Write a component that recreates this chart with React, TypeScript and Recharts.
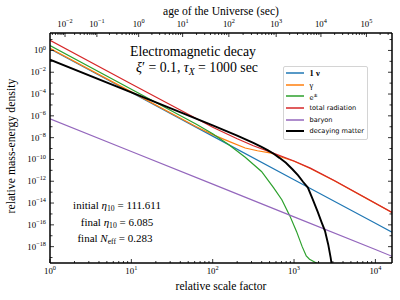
import React from "react";
import { LineChart, Line, XAxis, YAxis, Legend } from "recharts";

// scale factor samples and relative energy density
const nuA = [1, 10, 100, 1000, 10000, 16000];
const nuRho = [1.38, 1.38e-4, 1.38e-8, 1.38e-12, 1.38e-16, 2.1e-17];

const gammaA = [1, 10, 63, 100, 158, 251, 355, 525, 708, 1000, 1585, 3162, 7943, 16000];
const gammaRho = [1.58, 1.58e-4, 1e-7, 1.9e-8, 4.5e-9, 1.12e-9, 6.3e-10, 3.8e-10, 1.6e-10, 6.8e-11, 1.5e-11, 1.05e-12, 2.4e-14, 1.35e-15];

const epmA = [1, 10, 63, 100, 158, 251, 398, 562, 708, 891, 1072, 1259, 1413, 1549, 1995];
const epmRho = [2.75, 2.75e-4, 1.66e-7, 2.24e-8, 2.24e-9, 1.58e-10, 7.9e-12, 2.5e-13, 2e-14, 6.3e-16, 2.5e-17, 1e-18, 1.4e-19, 7e-20, 2.5e-20];

const radA = [1, 10, 100, 200, 316, 525, 1000, 1585, 3162, 7943, 16000];
const radRho = [8.5, 8.5e-4, 8.9e-8, 7.9e-9, 1.8e-9, 4.5e-10, 7.1e-11, 1.6e-11, 1.1e-12, 2.5e-14, 1.4e-15];

const baryonA = [1, 10, 100, 1000, 10000, 16000];
const baryonRho = [5.4e-7, 5.4e-10, 5.4e-13, 5.4e-16, 5.4e-19, 1.3e-19];

const dmA = [1, 10, 100, 200, 316, 398, 479, 562, 661, 794, 955, 1122, 1288, 1479, 1698, 1950, 2188, 2399, 2630, 2818, 3020];
const dmRho = [0.141, 1.41e-4, 1.35e-7, 1.5e-8, 3.3e-9, 1.4e-9, 6.8e-10, 3.3e-10, 1.4e-10, 5e-11, 1.26e-11, 3.5e-12, 9e-13, 2.6e-13, 2.2e-14, 1.6e-15, 1.6e-16, 2.8e-17, 1.6e-18, 1e-19, 3e-21];

// top axis: age of the Universe 10^n sec sits at these scale factors
const ageExp = [-2, -1, 0, 1, 2, 3, 4, 5];
const ageScale = [1.53, 3.77, 12.3, 42.7, 158, 603, 2140, 7760];

const xMajor = [1, 10, 100, 1000, 10000];
const yExp = [-19, -18, -17, -16, -15, -14, -13, -12, -11, -10, -9, -8, -7, -6, -5, -4, -3, -2, -1, 0, 1];

const X_DOMAIN = [1, 16000];
const Y_DOMAIN = [3.16e-20, 39.8];

const SERIF = '"Liberation Serif", "DejaVu Serif", serif';
const SANS = '"DejaVu Sans", sans-serif';

const series = [
  { key: "nu", label: "1 ν", serif: true, color: "#1f77b4", w: 1.2, a: nuA, rho: nuRho },
  { key: "gamma", label: "γ", serif: true, color: "#ff7f0e", w: 1.2, a: gammaA, rho: gammaRho },
  { key: "epm", label: "e±", serif: false, color: "#2ca02c", w: 1.2, a: epmA, rho: epmRho },
  { key: "rad", label: "total radiation", serif: false, color: "#d62728", w: 1.2, a: radA, rho: radRho },
  { key: "baryon", label: "baryon", serif: false, color: "#9467bd", w: 1.2, a: baryonA, rho: baryonRho },
  { key: "dm", label: "decaying matter", serif: false, color: "#000000", w: 1.9, a: dmA, rho: dmRho },
];

const rows = (a: number[], r: number[]) => a.map((x, i) => ({ a: x, rho: r[i] }));

const xTicks: number[] = [];
xMajor.forEach((d) => {
  for (let m = 1; m <= 9; m++) if (m * d <= X_DOMAIN[1]) xTicks.push(m * d);
});

// minor ticks of the age axis, placed between the major ones
const topTicks: number[] = [...ageScale];
const la = ageScale.map((v) => Math.log10(v));
for (let i = -1; i < la.length; i++) {
  const lo = i < 0 ? la[0] - (la[1] - la[0]) : la[i];
  const hi = i < 0 ? la[0] : i + 1 < la.length ? la[i + 1] : la[i] + (la[i] - la[i - 1]);
  for (let m = 2; m <= 9; m++) {
    const v = Math.pow(10, lo + Math.log10(m) * (hi - lo));
    if (v > X_DOMAIN[0] && v < X_DOMAIN[1]) topTicks.push(v);
  }
}
topTicks.sort((p, q) => p - q);

const yTicks = yExp.map((e) => Math.pow(10, e));

const expText = (e: number) => (e < 0 ? "\u2212" + -e : String(e));

function Pow({ x, y, e, anchor }: any) {
  return (
    <text x={x} y={y} textAnchor={anchor} fontFamily={SERIF} fontSize={8.8} fill="#000">
      <tspan>10</tspan>
      <tspan dy={-3.8} fontSize={6.3}>{expText(e)}</tspan>
    </text>
  );
}

function BottomTick(props: any) {
  const { x, y, payload } = props;
  const l = Math.log10(payload.value);
  const major = Math.abs(l - Math.round(l)) < 1e-9;
  return (
    <g>
      <line x1={x} x2={x} y1={y} y2={y - (major ? 4 : 2)} stroke="#000" strokeWidth={0.8} />
      {major && <Pow x={x} y={y + 11} e={Math.round(l)} anchor="middle" />}
    </g>
  );
}

function TopTick(props: any) {
  const { x, y, payload } = props;
  const idx = ageScale.indexOf(payload.value);
  const major = idx >= 0;
  return (
    <g>
      <line x1={x} x2={x} y1={y} y2={y + (major ? 4 : 2)} stroke="#000" strokeWidth={0.8} />
      {major && <Pow x={x} y={y - 6} e={ageExp[idx]} anchor="middle" />}
    </g>
  );
}

function LeftTick(props: any) {
  const { x, y, payload } = props;
  const e = Math.round(Math.log10(payload.value));
  const labelled = e % 2 === 0 && e <= 0 && e >= -18;
  return (
    <g>
      <line x1={x} x2={x + (labelled ? 4 : 2.5)} y1={y} y2={y} stroke="#000" strokeWidth={0.8} />
      {labelled && <Pow x={x - 4} y={y + 3} e={e} anchor="end" />}
    </g>
  );
}

function RightTick(props: any) {
  const { x, y, payload } = props;
  const e = Math.round(Math.log10(payload.value));
  const long = e % 2 === 0;
  return <line x1={x} x2={x - (long ? 4 : 2.5)} y1={y} y2={y} stroke="#000" strokeWidth={0.8} />;
}

const frame = { stroke: "#000", strokeWidth: 1.5 };

const renderLegend = () => (
  <div
    style={{
      width: 85,
      boxSizing: "border-box",
      border: "1px solid #d4d4d4",
      borderRadius: 2,
      background: "rgba(255,255,255,0.85)",
      padding: "0.5px 0 2px 1.5px",
    }}
  >
    {series.map((s) => (
      <div key={s.key} style={{ display: "flex", alignItems: "center", height: 11.6 }}>
        <svg width={18} height={4} style={{ marginRight: 6, display: "block" }}>
          <line x1={0} x2={18} y1={2} y2={2} stroke={s.color} strokeWidth={s.key === "dm" ? 2 : 1.5} />
        </svg>
        <span
          style={{
            fontFamily: s.serif ? SERIF : SANS,
            fontSize: s.serif ? 8.5 : 6.6,
            fontWeight: s.key === "nu" ? "bold" : "normal",
            color: "#000",
            whiteSpace: "nowrap",
            lineHeight: "10px",
          }}
        >
          {s.key === "epm" ? (
            <>
              e<sup style={{ fontSize: 5, verticalAlign: 3 }}>±</sup>
            </>
          ) : (
            s.label
          )}
        </span>
      </div>
    ))}
  </div>
);

const at = (cx: number, cy: number, size: number): React.CSSProperties => ({
  position: "absolute",
  left: cx,
  top: cy,
  transform: "translate(-50%, -50%)",
  fontFamily: SERIF,
  fontSize: size,
  whiteSpace: "nowrap",
  color: "#000",
  lineHeight: 1,
});

const Sub = ({ children }: any) => (
  <span style={{ fontSize: "0.7em", position: "relative", top: "0.3em" }}>{children}</span>
);

export default function App() {
  return (
    <div style={{ position: "absolute", left: 0, top: 0, width: 400, height: 300, background: "#fff" }}>
      <LineChart width={400} height={300} margin={{ top: 0, right: 7, bottom: 0, left: 8 }}>
        <XAxis
          xAxisId="bottom"
          dataKey="a"
          type="number"
          scale="log"
          domain={X_DOMAIN}
          allowDataOverflow
          ticks={xTicks}
          interval={0}
          height={37}
          tickSize={0}
          tickMargin={0}
          tickLine={false}
          axisLine={frame}
          tick={BottomTick}
        />
        <XAxis
          xAxisId="top"
          dataKey="a"
          orientation="top"
          type="number"
          scale="log"
          domain={X_DOMAIN}
          allowDataOverflow
          ticks={topTicks}
          interval={0}
          height={33}
          tickSize={0}
          tickMargin={0}
          tickLine={false}
          axisLine={frame}
          tick={TopTick}
        />
        <YAxis
          yAxisId="left"
          type="number"
          scale="log"
          domain={Y_DOMAIN}
          allowDataOverflow
          ticks={yTicks}
          interval={0}
          width={42}
          tickSize={0}
          tickMargin={0}
          tickLine={false}
          axisLine={frame}
          tick={LeftTick}
        />
        <YAxis
          yAxisId="right"
          orientation="right"
          type="number"
          scale="log"
          domain={Y_DOMAIN}
          allowDataOverflow
          ticks={yTicks}
          interval={0}
          width={1}
          tickSize={0}
          tickMargin={0}
          tickLine={false}
          axisLine={frame}
          tick={RightTick}
        />
        {series.map((s, i) => (
          <Line
            key={s.key}
            xAxisId={i === 0 ? "top" : "bottom"}
            yAxisId={i === 0 ? "right" : "left"}
            data={rows(s.a, s.rho)}
            dataKey="rho"
            name={s.label}
            type="linear"
            stroke={s.color}
            strokeWidth={s.w}
            dot={false}
            activeDot={false}
            isAnimationActive={false}
          />
        ))}
        <Legend
          layout="vertical"
          align="center"
          verticalAlign="middle"
          content={renderLegend}
          wrapperStyle={{ left: 283, top: 66, width: 85 }}
        />
      </LineChart>

      <div style={at(221, 12, 11.6)}>age of the Universe (sec)</div>
      <div style={at(221, 287, 11.6)}>relative scale factor</div>
      <div style={{ ...at(12, 146, 11.8), transform: "translate(-50%, -50%) rotate(-90deg)" }}>
        relative mass-energy density
      </div>

      <div style={at(193, 52, 13.8)}>Electromagnetic decay</div>
      <div style={at(197, 68, 13.8)}>
        <i>ξ</i>′ = 0.1, <i>τ</i>
        <Sub>
          <i>X</i>
        </Sub>{" "}
        = 1000 sec
      </div>

      <div style={at(117, 205, 11)}>
        initial <i>η</i>
        <Sub>10</Sub> = 111.611
      </div>
      <div style={at(117, 222, 11)}>
        final <i>η</i>
        <Sub>10</Sub> = 6.085
      </div>
      <div style={at(115, 238, 11)}>
        final <i>N</i>
        <Sub>eff</Sub> = 0.283
      </div>
    </div>
  );
}
